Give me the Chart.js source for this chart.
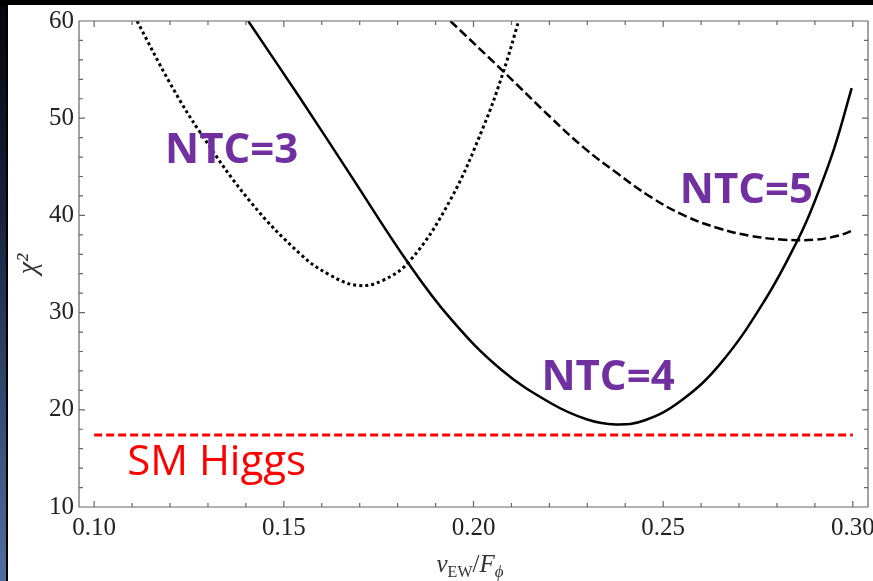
<!DOCTYPE html>
<html>
<head>
    <title>chi2 vs vEW/F</title>
    <script src="https://cdn.jsdelivr.net/npm/chart.js"></script>
    <style>
        html, body { margin: 0; padding: 0; background: #fff; overflow: hidden; }
        #wrap { position: absolute; left: 0; top: 0; width: 873px; height: 581px; }
    </style>
</head>
<body>
    <div id="wrap"><canvas id="grafico"></canvas></div>

    <script>
        // datos
        const xTicks = [0.10, 0.15, 0.20, 0.25, 0.30];
        const yTicks = [10, 20, 30, 40, 50, 60];

        // NTC=3 (punteada)
        const ntc3X = [0.1113, 0.1200, 0.1280, 0.1412, 0.1544, 0.1620, 0.1694, 0.1760, 0.1834, 0.1939, 0.2026, 0.2079, 0.2119];
        const ntc3Y = [60, 53.6, 48.5, 41.4, 36.0, 33.9, 32.8, 33.3, 35.4, 41.6, 49.1, 54.8, 60];

        // NTC=4 (solida)
        const ntc4X = [0.1406, 0.1544, 0.1675, 0.1828, 0.1939, 0.2071, 0.2203, 0.2300, 0.2375, 0.2450, 0.2546, 0.2652, 0.2770, 0.2855, 0.2895, 0.2950, 0.2997];
        const ntc4Y = [60, 52.0, 44.2, 35.1, 29.4, 24.2, 20.7, 19.0, 18.5, 18.9, 20.9, 24.8, 31.4, 37.5, 41.0, 46.8, 53.1];

        // NTC=5 (rayada)
        const ntc5X = [0.1939, 0.2079, 0.2203, 0.2290, 0.2380, 0.2467, 0.2555, 0.2644, 0.2730, 0.2818, 0.2900, 0.2960, 0.3003];
        const ntc5Y = [60, 54.8, 50.1, 47.0, 44.3, 41.9, 40.0, 38.7, 37.9, 37.5, 37.5, 37.9, 38.5];

        // SM Higgs
        const smX = [0.10, 0.30];
        const smY = [17.4, 17.4];

        const etiquetas = [
            { texto: 'NTC=3', x: 0.1187, y: 45.4, color: '#7030a0', bold: true },
            { texto: 'NTC=4', x: 0.2179, y: 22.0, color: '#7030a0', bold: true },
            { texto: 'NTC=5', x: 0.2544, y: 41.3, color: '#7030a0', bold: true },
            { texto: 'SM Higgs', x: 0.1087, y: 13.3, color: '#ff0000', bold: false }
        ];

        function puntos(xs, ys) {
            return xs.map((x, i) => ({ x: x, y: ys[i] }));
        }

        // fondo de la diapositiva
        const fondo = {
            id: 'fondo',
            beforeDraw(chart) {
                const ctx = chart.ctx;
                const h = chart.height;
                ctx.save();
                ctx.fillStyle = '#ffffff';
                ctx.fillRect(0, 0, chart.width, h);
                const g = ctx.createLinearGradient(0, 0, 0, h);
                g.addColorStop(0, '#05060a');
                g.addColorStop(0.35, '#16203a');
                g.addColorStop(1, '#4f6e9f');
                ctx.fillStyle = g;
                ctx.fillRect(0, 0, 6, h);
                ctx.fillStyle = '#000';
                ctx.fillRect(6, 0, 2, h);
                ctx.fillRect(0, 0, chart.width, 5);
                ctx.restore();
            }
        };

        // marco con ticks hacia adentro y textos
        const marco = {
            id: 'marco',
            afterDraw(chart) {
                const ctx = chart.ctx;
                const a = chart.chartArea;
                const xs = chart.scales.x, ys = chart.scales.y;
                ctx.save();
                ctx.strokeStyle = '#666666';
                ctx.lineWidth = 1.2;
                ctx.beginPath();
                ctx.rect(a.left, a.top, a.right - a.left, a.bottom - a.top);
                for (let i = 0; i <= 20; i++) {
                    const v = 0.10 + i * 0.01;
                    const len = (i % 5 === 0) ? 6 : 4;
                    const px = xs.getPixelForValue(v);
                    ctx.moveTo(px, a.bottom); ctx.lineTo(px, a.bottom - len);
                    ctx.moveTo(px, a.top); ctx.lineTo(px, a.top + len);
                }
                for (let v = 10; v <= 60; v += 2) {
                    const len = (v % 10 === 0) ? 6 : 4;
                    const py = ys.getPixelForValue(v);
                    ctx.moveTo(a.left, py); ctx.lineTo(a.left + len, py);
                    ctx.moveTo(a.right, py); ctx.lineTo(a.right - len, py);
                }
                ctx.stroke();

                // etiquetas de curvas
                etiquetas.forEach(e => {
                    ctx.font = (e.bold ? 'bold ' : '') + '42px "Open Sans"';
                    ctx.fillStyle = e.color;
                    ctx.textBaseline = 'alphabetic';
                    ctx.textAlign = 'left';
                    ctx.fillText(e.texto, xs.getPixelForValue(e.x), ys.getPixelForValue(e.y));
                });

                // titulo eje x: v_EW / F_phi
                const partes = [
                    { t: 'v', f: 'italic 25px "Liberation Serif"', dy: 0 },
                    { t: 'EW', f: '16px "Liberation Serif"', dy: 5 },
                    { t: '/', f: '25px "Liberation Serif"', dy: 0 },
                    { t: 'F', f: 'italic 25px "Liberation Serif"', dy: 0 },
                    { t: '\u03d5', f: 'italic 17px "Liberation Serif"', dy: 5 }
                ];
                let ancho = 0;
                partes.forEach(p => { ctx.font = p.f; ancho += ctx.measureText(p.t).width; });
                let cx = 470 - ancho / 2;
                const base = 572;
                ctx.fillStyle = '#333';
                ctx.textAlign = 'left';
                partes.forEach(p => {
                    ctx.font = p.f;
                    ctx.fillText(p.t, cx, base + p.dy);
                    cx += ctx.measureText(p.t).width;
                });
                ctx.restore();
            }
        };

        const datos = {
            datasets: [
                {
                    label: 'NTC=3',
                    data: puntos(ntc3X, ntc3Y),
                    borderColor: '#000',
                    borderWidth: 3,
                    borderDash: [3, 3],
                    pointRadius: 0,
                    tension: 0.4
                },
                {
                    label: 'NTC=4',
                    data: puntos(ntc4X, ntc4Y),
                    borderColor: '#000',
                    borderWidth: 2.5,
                    pointRadius: 0,
                    tension: 0.4
                },
                {
                    label: 'NTC=5',
                    data: puntos(ntc5X, ntc5Y),
                    borderColor: '#000',
                    borderWidth: 2.5,
                    borderDash: [9, 4],
                    pointRadius: 0,
                    tension: 0.4
                },
                {
                    label: 'SM Higgs',
                    data: puntos(smX, smY),
                    borderColor: '#ff0000',
                    borderWidth: 3,
                    borderDash: [8, 4],
                    pointRadius: 0
                }
            ]
        };

        const configuracion = {
            type: 'line',
            data: datos,
            options: {
                responsive: true,
                maintainAspectRatio: false,
                animation: false,
                layout: { padding: { left: 0, top: 21, right: 5, bottom: 0 } },
                plugins: {
                    legend: { display: false },
                    tooltip: { enabled: false }
                },
                scales: {
                    x: {
                        type: 'linear',
                        min: 0.096,
                        max: 0.304,
                        grid: { display: false, drawTicks: false },
                        border: { display: false },
                        afterBuildTicks: s => { s.ticks = xTicks.map(v => ({ value: v })); },
                        afterFit: s => { s.height = 74; s.paddingLeft = 0; s.paddingRight = 0; },
                        ticks: {
                            padding: 6,
                            maxRotation: 0,
                            autoSkip: false,
                            color: '#222',
                            font: { family: '"Liberation Serif"', size: 25 },
                            callback: v => v.toFixed(2)
                        }
                    },
                    y: {
                        min: 10,
                        max: 60,
                        grid: { display: false, drawTicks: false },
                        border: { display: false },
                        afterBuildTicks: s => { s.ticks = yTicks.map(v => ({ value: v })); },
                        afterFit: s => { s.width = 79; s.paddingTop = 0; s.paddingBottom = 0; },
                        title: {
                            display: true,
                            text: '\u03c7\u00b2',
                            color: '#333',
                            font: { family: '"Liberation Serif"', size: 28, style: 'italic' },
                            padding: { top: 12, bottom: 0 }
                        },
                        ticks: {
                            padding: 5,
                            color: '#222',
                            font: { family: '"Liberation Serif"', size: 25 },
                            callback: v => String(v)
                        }
                    }
                }
            },
            plugins: [fondo, marco]
        };

        const ctx = document.getElementById('grafico').getContext('2d');
        const miGrafico = new Chart(ctx, configuracion);
    </script>
</body>
</html>
